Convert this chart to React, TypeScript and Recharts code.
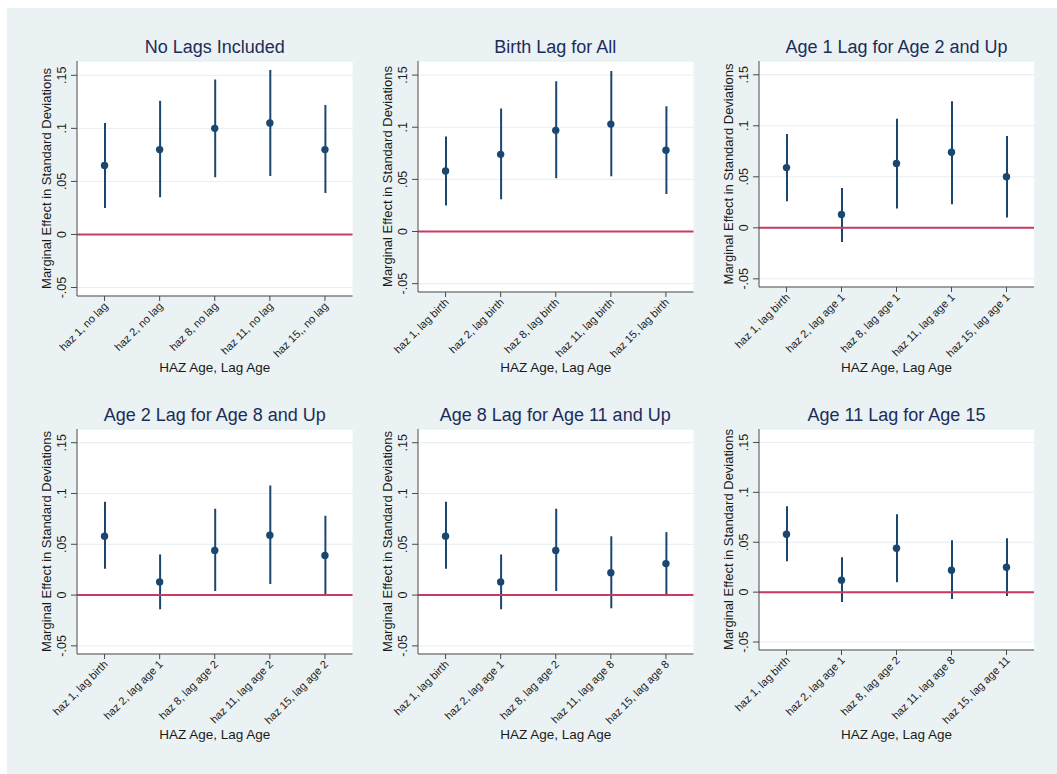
import React from 'react';
import { ComposedChart, Bar, Line, XAxis, YAxis, CartesianGrid, ReferenceLine } from 'recharts';

const NAVY = '#1a476f';
const RED = '#c93a60';
const AXIS = '#4a4a4a';
const GRID = '#e6eef0';
const BG = '#eaf2f3';
const TEXT = '#1a1a1a';
const TITLE = '#1e2c5a';
const FONT = '"Liberation Sans", Arial, sans-serif';

const yTicks = [-0.05, 0, 0.05, 0.1, 0.15];

// No lags
const noLagLabels = ['haz 1, no lag', 'haz 2, no lag', 'haz 8, no lag', 'haz 11, no lag', 'haz 15,, no lag'];
const noLagEst = [0.065, 0.080, 0.100, 0.105, 0.080];
const noLagLo = [0.025, 0.035, 0.054, 0.055, 0.039];
const noLagHi = [0.105, 0.126, 0.146, 0.155, 0.122];

// birth lag
const birthLabels = ['haz 1, lag birth', 'haz 2, lag birth', 'haz 8, lag birth', 'haz 11, lag birth', 'haz 15, lag birth'];
const birthEst = [0.058, 0.074, 0.097, 0.103, 0.078];
const birthLo = [0.025, 0.031, 0.051, 0.053, 0.036];
const birthHi = [0.091, 0.118, 0.144, 0.154, 0.120];

// age 1 lag
const age1Labels = ['haz 1, lag birth', 'haz 2, lag age 1', 'haz 8, lag age 1', 'haz 11, lag age 1', 'haz 15, lag age 1'];
const age1Est = [0.059, 0.013, 0.063, 0.074, 0.050];
const age1Lo = [0.026, -0.014, 0.019, 0.023, 0.010];
const age1Hi = [0.092, 0.039, 0.107, 0.124, 0.090];

// age 2 lag
const age2Labels = ['haz 1, lag birth', 'haz 2, lag age 1', 'haz 8, lag age 2', 'haz 11, lag age 2', 'haz 15, lag age 2'];
const age2Est = [0.058, 0.013, 0.044, 0.059, 0.039];
const age2Lo = [0.026, -0.014, 0.004, 0.011, 0.000];
const age2Hi = [0.092, 0.040, 0.085, 0.108, 0.078];

// age 8 lag
const age8Labels = ['haz 1, lag birth', 'haz 2, lag age 1', 'haz 8, lag age 2', 'haz 11, lag age 8', 'haz 15, lag age 8'];
const age8Est = [0.058, 0.013, 0.044, 0.022, 0.031];
const age8Lo = [0.026, -0.014, 0.004, -0.013, -0.001];
const age8Hi = [0.092, 0.040, 0.085, 0.058, 0.062];

// age 11 lag
const age11Labels = ['haz 1, lag birth', 'haz 2, lag age 1', 'haz 8, lag age 2', 'haz 11, lag age 8', 'haz 15, lag age 11'];
const age11Est = [0.058, 0.012, 0.044, 0.022, 0.025];
const age11Lo = [0.031, -0.010, 0.010, -0.007, -0.004];
const age11Hi = [0.086, 0.035, 0.078, 0.052, 0.054];

const panels = [
  { title: 'No Lags Included', labels: noLagLabels, est: noLagEst, lo: noLagLo, hi: noLagHi, box: { left: 77, top: 61, right: 352.5, bottom: 296 }, xBase: 372 },
  { title: 'Birth Lag for All', labels: birthLabels, est: birthEst, lo: birthLo, hi: birthHi, box: { left: 417.5, top: 61, right: 693, bottom: 292 }, xBase: 372 },
  { title: 'Age 1 Lag for Age 2 and Up', labels: age1Labels, est: age1Est, lo: age1Lo, hi: age1Hi, box: { left: 759, top: 61, right: 1034, bottom: 287 }, xBase: 372 },
  { title: 'Age 2 Lag for Age 8 and Up', labels: age2Labels, est: age2Est, lo: age2Lo, hi: age2Hi, box: { left: 77, top: 429, right: 352.5, bottom: 654 }, xBase: 739 },
  { title: 'Age 8 Lag for Age 11 and Up', labels: age8Labels, est: age8Est, lo: age8Lo, hi: age8Hi, box: { left: 417.5, top: 429, right: 693, bottom: 654 }, xBase: 739 },
  { title: 'Age 11 Lag for Age 15', labels: age11Labels, est: age11Est, lo: age11Lo, hi: age11Hi, box: { left: 759, top: 429, right: 1034, bottom: 650 }, xBase: 739 },
];

const fmt = (v: number) => {
  if (v === 0) return '0';
  const s = String(Math.abs(v)).replace(/^0/, '');
  return v < 0 ? '-' + s : s;
};

const YTick = (props: any) => {
  const { x, y, payload } = props;
  const tx = x - 3;
  return (
    <text x={tx} y={y} transform={`rotate(-90, ${tx}, ${y})`} textAnchor="middle" fontSize={12.5} fill={TEXT} fontFamily={FONT}>
      {fmt(payload.value)}
    </text>
  );
};

const XTick = (props: any) => {
  const { x, y, payload } = props;
  const tx = x + 4;
  const ty = y + 4;
  return (
    <text x={tx} y={ty} transform={`rotate(-45, ${tx}, ${ty})`} textAnchor="end" fontSize={11} fill={TEXT} fontFamily={FONT}>
      {payload.value}
    </text>
  );
};

const Panel = ({ p }: { p: any }) => {
  const { left, top, right, bottom } = p.box;
  const plotW = right - left;
  const plotH = bottom - top;
  const xh = p.xBase + 4 - bottom;
  const data = p.labels.map((name: string, i: number) => ({
    name,
    est: p.est[i],
    ci: [p.lo[i], p.hi[i]],
  }));

  return (
    <>
      <div style={{ position: 'absolute', left, top: top - 25, width: plotW, textAlign: 'center', fontSize: 18, lineHeight: '22px', color: TITLE, fontFamily: FONT }}>
        {p.title}
      </div>
      <div style={{ position: 'absolute', left: left - 62, top }}>
        <ComposedChart width={62 + plotW} height={plotH + xh} data={data} margin={{ top: 0, right: 0, bottom: 0, left: 0 }}>
          <CartesianGrid vertical={false} stroke={GRID} fill="#ffffff" />
          <XAxis
            dataKey="name"
            height={xh}
            interval={0}
            tickSize={5}
            tickLine={{ stroke: AXIS }}
            axisLine={{ stroke: AXIS }}
            tick={<XTick />}
            label={{ value: 'HAZ Age, Lag Age', position: 'insideBottom', offset: 4, fontSize: 13.5, fill: TEXT, fontFamily: FONT }}
          />
          <YAxis
            type="number"
            domain={[-0.058, 0.1635]}
            allowDataOverflow
            ticks={yTicks}
            width={62}
            tickSize={6}
            tickLine={{ stroke: AXIS }}
            axisLine={{ stroke: AXIS }}
            tick={<YTick />}
            label={{ value: 'Marginal Effect in Standard Deviations', angle: -90, position: 'center', fontSize: 13, fill: TEXT, fontFamily: FONT }}
          />
          <ReferenceLine y={0} stroke={RED} strokeWidth={2} />
          <Bar dataKey="ci" barSize={2} fill={NAVY} isAnimationActive={false} />
          <Line
            dataKey="est"
            stroke="none"
            dot={{ r: 3.7, fill: NAVY, stroke: NAVY, strokeWidth: 0 }}
            activeDot={false}
            isAnimationActive={false}
          />
        </ComposedChart>
      </div>
    </>
  );
};

const App = () => {
  return (
    <div style={{ position: 'relative', width: 1057, height: 774, background: '#fff', overflow: 'hidden' }}>
      <style>{'body{margin:0} .recharts-surface{overflow:visible}'}</style>
      <div style={{ position: 'absolute', left: 7, top: 8, right: 0, bottom: 0, background: BG }} />
      {panels.map((p, i) => (
        <Panel key={i} p={p} />
      ))}
    </div>
  );
};

export default App;
